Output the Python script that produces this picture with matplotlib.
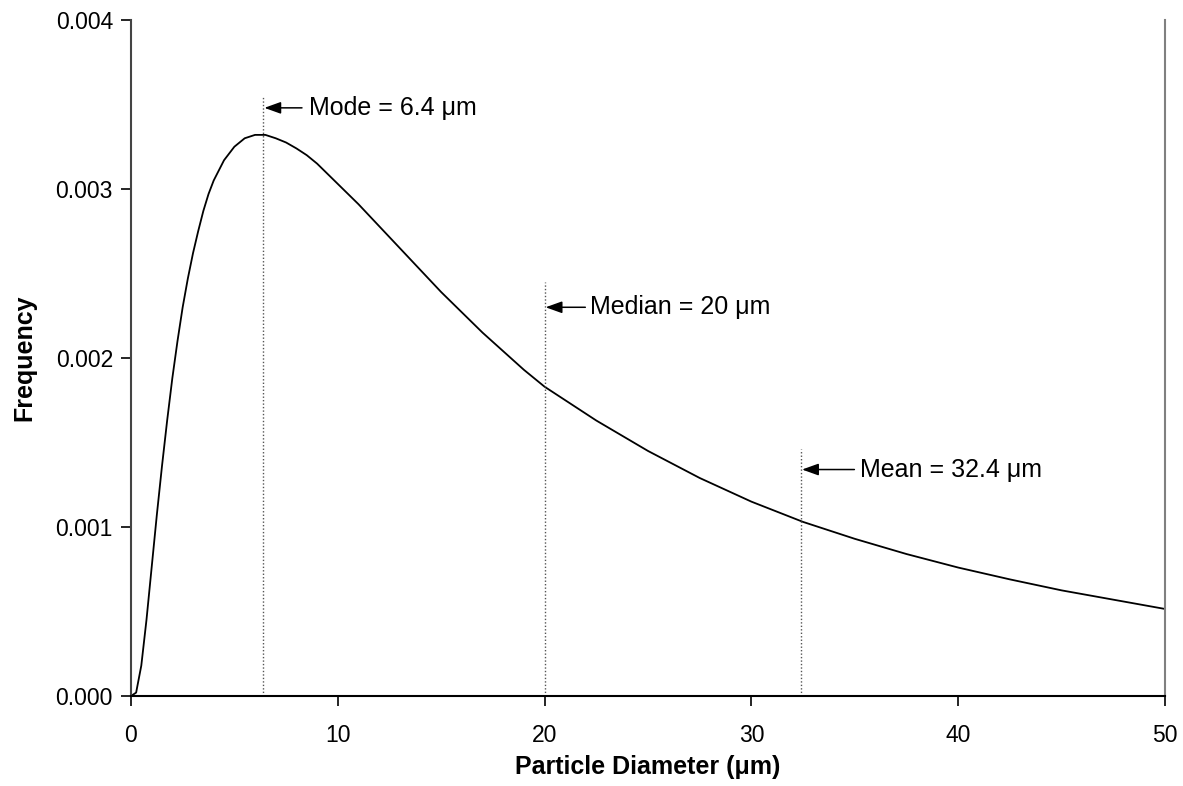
import matplotlib.pyplot as plt

plt.rcParams['font.family'] = ['Liberation Sans', 'DejaVu Sans']

# curve (diameter in um, frequency)
diameter = [0, 0.25, 0.5, 0.75, 1, 1.25, 1.5, 1.75, 2, 2.25, 2.5, 2.75, 3,
            3.25, 3.5, 3.75, 4, 4.5, 5, 5.5, 6, 6.5, 7, 7.5, 8, 8.5, 9, 9.5,
            10, 11, 12, 13, 14, 15, 16, 17, 18, 19, 20, 22.5, 25, 27.5, 30,
            32.5, 35, 37.5, 40, 42.5, 45, 47.5, 50]
frequency = [0, 0.00002, 0.00018, 0.00045, 0.00076, 0.00107, 0.00136,
             0.00163, 0.00188, 0.0021, 0.0023, 0.00247, 0.00262, 0.00275,
             0.00287, 0.00297, 0.00305, 0.00317, 0.00325, 0.0033, 0.00332,
             0.00332, 0.0033, 0.003275, 0.00324, 0.0032, 0.00315, 0.00309,
             0.00303, 0.00291, 0.00278, 0.00265, 0.00252, 0.00239, 0.00227,
             0.00215, 0.00204, 0.00193, 0.00183, 0.00163, 0.00145, 0.00129,
             0.00115, 0.00103, 0.00093, 0.00084, 0.00076, 0.00069, 0.000625,
             0.00057, 0.000515]

# statistic markers: position, top of dotted line, arrow height, arrow tail, text start
stat_x = [6.4, 20, 32.4]
stat_top = [0.00355, 0.00245, 0.00146]
stat_arrow_y = [0.00348, 0.00230, 0.00134]
stat_tail = [8.27, 21.97, 34.98]
stat_text_x = [8.59, 22.2, 35.25]
stat_labels = ['Mode = 6.4 \u03bcm', 'Median = 20 \u03bcm', 'Mean = 32.4 \u03bcm']

fig = plt.figure(figsize=(11.83, 7.86), dpi=100)
ax = fig.add_axes([0.1107, 0.1145, 0.8741, 0.8601])

ax.plot(diameter, frequency, color='black', lw=1.3)

for x, top, ay, tail, tx, lab in zip(stat_x, stat_top, stat_arrow_y,
                                     stat_tail, stat_text_x, stat_labels):
    ax.vlines(x, 0, top, colors='#555555', linestyles=(0, (1, 1.5)), lw=1)
    ax.annotate('', xy=(x + 0.05, ay), xytext=(tail, ay),
                arrowprops=dict(arrowstyle='-|>,head_length=1.0,head_width=0.36',
                                color='black', lw=1.1, shrinkA=0, shrinkB=0))
    ax.text(tx, ay, lab, fontsize=18, va='center', ha='left')

ax.set_xlim(0, 50)
ax.set_ylim(0, 0.004)
ax.set_xticks([0, 10, 20, 30, 40, 50])
ax.set_yticks([0, 0.001, 0.002, 0.003, 0.004])
ax.set_yticklabels(['0.000', '0.001', '0.002', '0.003', '0.004'])
ax.tick_params(labelsize=16.5, length=7, width=1.2, direction='out', pad=6)
ax.tick_params(axis='x', pad=13)

ax.spines['top'].set_visible(False)
ax.spines['right'].set_color('#808080')
ax.spines['right'].set_linewidth(1.5)
ax.spines['left'].set_color('#444444')
ax.spines['left'].set_linewidth(1.5)
ax.spines['bottom'].set_linewidth(1.5)

ax.set_xlabel('Particle Diameter (\u03bcm)', fontsize=18, fontweight='bold', labelpad=6)
ax.set_ylabel('Frequency', fontsize=18, fontweight='bold', labelpad=14)

fig.savefig('out.png', dpi=100)
